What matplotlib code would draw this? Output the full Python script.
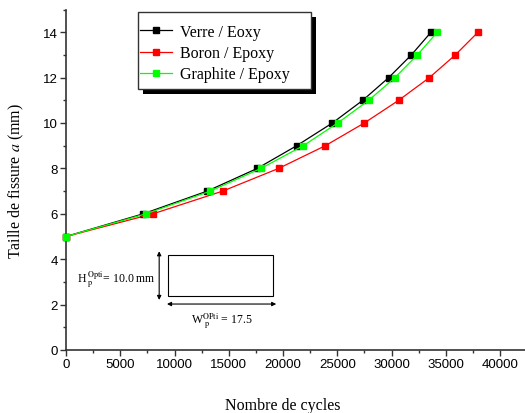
import numpy as np
import matplotlib
matplotlib.use("Agg")
import matplotlib.pyplot as plt
from matplotlib.legend_handler import HandlerLine2D
from matplotlib.patches import Rectangle
from matplotlib.ticker import MultipleLocator

# crack size (mm) and number of cycles for each material
crack_size = [5, 6, 7, 8, 9, 10, 11, 12, 13, 14]
verre = [0, 7120, 13020, 17630, 21260, 24550, 27350, 29740, 31830, 33640]
boron = [0, 8020, 14440, 19600, 23900, 27490, 30660, 33490, 35880, 37970]
graphite = [0, 7370, 13300, 17970, 21870, 25040, 27900, 30320, 32380, 34220]

labels = ["Verre / Eoxy", "Boron / Epoxy", "Graphite / Epoxy"]
colors = ["black", "#ff0000", "#00ff00"]

plt.rcParams["mathtext.fontset"] = "stix"
serif = "Liberation Serif"
sans = "Liberation Sans"


# origin-like legend entry: marker sits on the left part of the line
class LeftMarkerHandler(HandlerLine2D):
    def get_xdata(self, legend, xdescent, ydescent, width, height, fontsize):
        xdata = np.array([-xdescent, -xdescent + width])
        xmark = np.array([-xdescent + 0.3 * width])
        return xdata, xmark


fig = plt.figure(figsize=(5.25, 4.14), dpi=100)
ax = fig.add_axes([66 / 525, 63 / 414, 459 / 525, 340.5 / 414])

lines = []
for xs, lab, col in zip([verre, boron, graphite], labels, colors):
    ln, = ax.plot(xs, crack_size, color=col, lw=0.9, marker="s", ms=5,
                  mec=col, mfc=col, label=lab, clip_on=False, zorder=3)
    lines.append(ln)

ax.set_xlim(0, 42300)
ax.set_ylim(0, 15)
ax.xaxis.set_major_locator(MultipleLocator(5000))
ax.xaxis.set_minor_locator(MultipleLocator(2500))
ax.yaxis.set_major_locator(MultipleLocator(2))
ax.yaxis.set_minor_locator(MultipleLocator(1))
ax.tick_params(which="both", direction="out", color="#333333", width=1.0)
ax.tick_params(which="major", length=4, labelsize=9.5, pad=2)
ax.tick_params(which="minor", length=2.5)
for lab in ax.get_xticklabels() + ax.get_yticklabels():
    lab.set_fontfamily(sans)

for side in ["top", "right"]:
    ax.spines[side].set_visible(False)
for side in ["left", "bottom"]:
    ax.spines[side].set_linewidth(1.2)
    ax.spines[side].set_color("#333333")

ax.set_xlabel("Nombre de cycles", fontsize=11.5, family=serif)
ax.xaxis.set_label_coords(0.473, -0.138)
ax.set_ylabel(r"Taille de fissure $\it{a}$ (mm)", fontsize=11.5, family=serif)
ax.yaxis.set_label_coords(-0.088, 0.5)

# legend frame + hard black drop shadow drawn by hand (pixel coords)
fig.patches.append(Rectangle((143, 414 - 95), 173, 77, transform=None,
                             facecolor="black", edgecolor="none", zorder=4))
fig.patches.append(Rectangle((138, 414 - 90), 173, 77, transform=None,
                             facecolor="white", edgecolor="#333333", lw=1.0, zorder=4.5))
leg = fig.legend(handles=lines, loc="upper left",
                 bbox_to_anchor=(140 / 525, 1 - 25 / 414),
                 prop={"family": serif, "size": 11.5},
                 frameon=False, borderpad=0, labelspacing=0.32,
                 handlelength=2.0, handletextpad=0.5, borderaxespad=0,
                 handler_map={ln: LeftMarkerHandler(numpoints=1) for ln in lines})
leg.set_zorder(5)

# inset sketch of the optimal specimen
ax.add_patch(Rectangle((0.222, 0.159), 0.229, 0.120, transform=ax.transAxes,
                       fill=False, edgecolor="black", lw=0.8))
ax.annotate("", xy=(0.203, 0.290), xytext=(0.203, 0.147),
            xycoords="axes fraction", textcoords="axes fraction",
            arrowprops=dict(arrowstyle="<|-|>", color="black", lw=0.8,
                            mutation_scale=6, shrinkA=0, shrinkB=0))
ax.annotate("", xy=(0.220, 0.135), xytext=(0.458, 0.135),
            xycoords="axes fraction", textcoords="axes fraction",
            arrowprops=dict(arrowstyle="<|-|>", color="black", lw=0.8,
                            mutation_scale=6, shrinkA=0, shrinkB=0))
ax.text(0.196, 0.211, r"H$^{\ \mathrm{Opti}}_{\ \mathrm{p}}$= 10.0 mm", transform=ax.transAxes,
        ha="right", va="center", fontsize=8.5, family=serif)
ax.text(0.340, 0.088, r"W$^{\mathrm{OPti}}_{\ \mathrm{p}}$ = 17.5", transform=ax.transAxes,
        ha="center", va="center", fontsize=8.5, family=serif)

fig.savefig("out.png", dpi=100)
